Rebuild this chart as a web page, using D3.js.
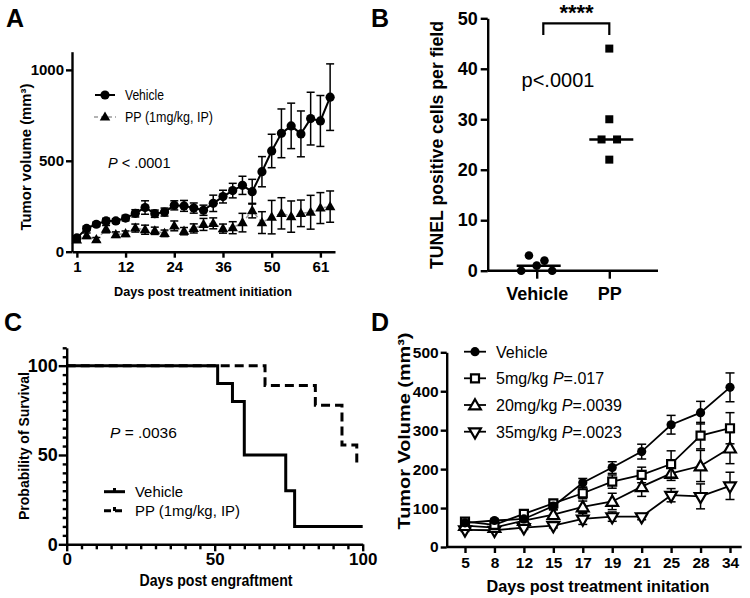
<!DOCTYPE html>
<html><head><meta charset="utf-8">
<script src="https://cdn.jsdelivr.net/npm/d3@7"></script>
<style>body{margin:0;background:#fff}svg{display:block}text{font-family:"Liberation Sans",Arial,sans-serif}</style>
</head><body>
<svg id="c" width="750" height="598"></svg>
<script>
// ---------- DATA ----------
// Panel A (measurement index; labelled ticks)
const aTickIdx = [0, 5, 10, 15, 20, 25];
const aTickLabels = ["1", "12", "24", "36", "50", "61"];
const aVehicle = [76,128,151,169,169,185,211,243,209,218,255,252,240,228,266,303,336,365,330,440,554,651,692,648,732,719,850];
const aVehicleErr = [12,12,12,15,12,15,20,37,20,22,25,30,28,28,45,35,40,50,68,83,92,134,125,126,145,140,183];
const aPP = [64,88,66,124,94,99,130,121,115,101,142,113,128,150,156,127,132,160,226,160,190,211,193,211,217,240,248];
const aPPErr = [10,15,12,20,15,15,22,25,20,18,27,20,25,33,30,25,33,51,40,60,92,86,86,73,93,85,86];
// Panel B
const bGroups = ["Vehicle", "PP"];
const bVehicle = [1, 0, 0, 3, 2];
const bPP = [44, 30, 26, 26, 22];
const bMedian = [1, 26];
// Panel C (Kaplan-Meier)
const cVehTime = [0, 51, 56, 60, 74, 77, 100];
const cVehSurv = [100, 90, 80, 50, 30, 10, 10];
const cPPTime = [0, 67, 84, 93, 98];
const cPPSurv = [100, 88.9, 77.8, 55.6, 44.4];
// Panel D
const dDays = ["5","8","12","15","17","19","21","25","28","34"];
const dVehicle = [62, 68, 72, 105, 165, 204, 245, 314, 345, 410];
const dVehicleErr = [5, 4, 5, 8, 11, 15, 19, 24, 29, 37];
const d5 = [65, 57, 85, 112, 138, 168, 185, 213, 286, 305];
const d5Err = [6, 5, 6, 8, 14, 17, 20, 34, 34, 40];
const d20 = [55, 50, 68, 83, 103, 117, 155, 189, 208, 254];
const d20Err = [5, 4, 6, 12, 15, 21, 25, 18, 40, 40];
const d35 = [44, 43, 50, 55, 72, 78, 78, 133, 130, 157];
const d35Err = [4, 4, 5, 6, 14, 12, 8, 17, 32, 35];

// ---------- DRAW ----------
const svg = d3.select("#c");
const F = '"Liberation Sans",Arial,sans-serif';
function txt(g, x, y, s, size, opts = {}) {
  const t = g.append("text").attr("x", x).attr("y", y).attr("font-size", size)
    .attr("font-weight", opts.bold ? "bold" : "normal")
    .attr("text-anchor", opts.anchor || "start")
    .attr("dominant-baseline", "central").text(s);
  if (opts.rotate) t.attr("transform", `rotate(-90,${x},${y})`);
  if (opts.len) t.attr("textLength", opts.len).attr("lengthAdjust", "spacingAndGlyphs");
  return t;
}
function styleAxis(g, fs) {
  g.selectAll("path,line").attr("stroke", "#000").attr("stroke-width", 2.4);
  g.selectAll("text").attr("font-size", fs).attr("font-weight", "bold").attr("fill", "#000").attr("font-family", F);
}
const tri = d3.symbol().type(d3.symbolTriangle);
function errBars(g, xs, ys, vals, errs, cap, color) {
  vals.forEach((v, i) => {
    const x = xs(i), y1 = ys(v + errs[i]), y0 = ys(v - errs[i]);
    g.append("line").attr("x1", x).attr("x2", x).attr("y1", y0).attr("y2", y1).attr("stroke", color).attr("stroke-width", 1.5);
    [y0, y1].forEach(yy => g.append("line").attr("x1", x - cap).attr("x2", x + cap).attr("y1", yy).attr("y2", yy).attr("stroke", color).attr("stroke-width", 1.5));
  });
}

// Panel letters
[["A", 6, 18], ["B", 371, 18], ["C", 4, 322], ["D", 371, 322]].forEach(([l, x, y]) => txt(svg, x, y, l, 25, {bold: true}));

// ===== Panel A =====
{
  const g = svg.append("g");
  const x = d3.scaleLinear().domain([-0.5, 26.5]).range([72, 335]);
  const y = d3.scaleLinear().domain([0, 1100]).range([251.7, 51.7]);
  const xa = g.append("g").attr("transform", "translate(0,251.7)")
    .call(d3.axisBottom(x).tickValues(aTickIdx).tickFormat((d, i) => aTickLabels[i]).tickSize(6).tickSizeOuter(0).tickPadding(4));
  styleAxis(xa, 15);
  const ya = g.append("g").attr("transform", "translate(72,0)")
    .call(d3.axisLeft(y).tickValues([0, 500, 1000]).tickFormat(d3.format("d")).tickSize(6).tickSizeOuter(0).tickPadding(2));
  styleAxis(ya, 15);
  const ix = i => x(i);
  // PP
  const ppLine = d3.line().x((d, i) => x(i)).y(d => y(d));
  g.append("path").attr("d", ppLine(aPP)).attr("fill", "none").attr("stroke", "#9a9a9a").attr("stroke-width", 1.6).attr("stroke-dasharray", "4,3");
  errBars(g, ix, y, aPP, aPPErr, 4, "#000");
  aPP.forEach((v, i) => g.append("path").attr("d", tri.size(48)()).attr("transform", `translate(${x(i)},${y(v) + 0.5})`).attr("fill", "#000"));
  // Vehicle
  g.append("path").attr("d", ppLine(aVehicle)).attr("fill", "none").attr("stroke", "#000").attr("stroke-width", 2);
  errBars(g, ix, y, aVehicle, aVehicleErr, 4, "#000");
  aVehicle.forEach((v, i) => g.append("circle").attr("cx", x(i)).attr("cy", y(v)).attr("r", 4.6).attr("fill", "#000"));
  // legend
  g.append("line").attr("x1", 95).attr("x2", 115).attr("y1", 95).attr("y2", 95).attr("stroke", "#000").attr("stroke-width", 2);
  g.append("circle").attr("cx", 105).attr("cy", 95).attr("r", 4.6).attr("fill", "#000");
  txt(g, 125, 95, "Vehicle", 14, {len: 39});
  g.append("line").attr("x1", 94).attr("x2", 116).attr("y1", 117).attr("y2", 117).attr("stroke", "#9a9a9a").attr("stroke-width", 1.6).attr("stroke-dasharray", "4,3");
  g.append("path").attr("d", tri.size(48)()).attr("transform", "translate(105,117.5)").attr("fill", "#000");
  txt(g, 125, 117, "PP (1mg/kg, IP)", 14, {len: 88});
  const p = txt(g, 108, 163, "", 14.5);
  p.append("tspan").attr("font-style", "italic").text("P");
  p.append("tspan").text(" < .0001");
  // axis titles
  txt(g, 203, 291, "Days post treatment initiation", 13, {bold: true, anchor: "middle", len: 178});
  txt(g, 26, 157, "Tumor volume (mm³)", 14.5, {bold: true, anchor: "middle", rotate: true, len: 147});
}

// ===== Panel B =====
{
  const g = svg.append("g");
  const y = d3.scaleLinear().domain([0, 50]).range([270.7, 18.3]);
  const x = d3.scalePoint().domain(bGroups).range([536.7, 609.3]);
  const ya = g.append("g").attr("transform", "translate(487.7,0)")
    .call(d3.axisLeft(y).tickValues([0, 10, 20, 30, 40, 50]).tickSize(7).tickSizeOuter(0).tickPadding(3));
  styleAxis(ya, 18);
  const xa = g.append("g").attr("transform", "translate(0,270.7)")
    .call(d3.axisBottom(x).tickSize(8).tickSizeOuter(0).tickPadding(9));
  styleAxis(xa, 18);
  xa.select(".domain").remove();
  g.append("line").attr("x1", 487.7).attr("x2", 658).attr("y1", 270.7).attr("y2", 270.7).attr("stroke", "#000").attr("stroke-width", 2.4);
  // swarm: rows of overlapping points, spread symmetrically
  function swarm(vals, cx, step, tol) {
    const idx = vals.map((v, i) => i).sort((a, b) => vals[a] - vals[b]);
    const rows = [];
    idx.forEach(i => {
      const r = rows[rows.length - 1];
      if (r && Math.abs(y(vals[r[0]]) - y(vals[i])) <= tol) r.push(i); else rows.push([i]);
    });
    const out = [];
    rows.forEach(r => {
      r.sort((a, b) => vals[b] - vals[a]);
      const n = r.length;
      let offs;
      if (n % 2 === 1) { offs = [0]; for (let k = 1; offs.length < n; k++) { offs.push(-k * step); if (offs.length < n) offs.push(k * step); } }
      else { offs = []; for (let k = 0; offs.length < n; k++) { offs.push(-(k + 0.5) * step); offs.push((k + 0.5) * step); } }
      r.forEach((i, j) => out.push({v: vals[i], x: cx + offs[j]}));
    });
    return out;
  }
  swarm(bVehicle, x("Vehicle"), 15.5, 8).forEach(d => g.append("circle").attr("cx", d.x).attr("cy", y(d.v)).attr("r", 4.3).attr("fill", "#000"));
  swarm(bPP, x("PP"), 15.5, 8).forEach(d => g.append("rect").attr("x", d.x - 4).attr("y", y(d.v) - 4).attr("width", 8).attr("height", 8).attr("fill", "#000"));
  bGroups.forEach((gname, i) => g.append("line").attr("x1", x(gname) - 20).attr("x2", x(gname) + 24).attr("y1", y(bMedian[i])).attr("y2", y(bMedian[i])).attr("stroke", "#000").attr("stroke-width", 2.5));
  // significance bracket
  g.append("path").attr("d", `M543.3,35V23.3H609.3V35`).attr("fill", "none").attr("stroke", "#000").attr("stroke-width", 2.2);
  txt(g, 576.5, 12, "****", 22, {bold: true, anchor: "middle"});
  txt(g, 558, 80, "p<.0001", 20, {anchor: "middle"});
  txt(g, 437, 145, "TUNEL positive cells per field", 17.5, {bold: true, anchor: "middle", rotate: true, len: 248});
}

// ===== Panel C =====
{
  const g = svg.append("g");
  const x = d3.scaleLinear().domain([0, 100]).range([66.7, 362.7]);
  const y = d3.scaleLinear().domain([0, 110]).range([544.3, 347.8]);
  const xa = g.append("g").attr("transform", "translate(0,544.3)")
    .call(d3.axisBottom(x).tickValues(d3.range(0, 101, 5)).tickFormat(d => d % 50 === 0 ? d : "").tickSize(5).tickSizeOuter(0).tickPadding(3));
  styleAxis(xa, 17);
  xa.selectAll(".tick line").filter(d => d % 50 === 0).attr("y2", 7);
  xa.selectAll(".tick text").attr("y", 9);
  const ya = g.append("g").attr("transform", "translate(66.7,0)")
    .call(d3.axisLeft(y).tickValues(d3.range(0, 111, 5)).tickFormat(d => d % 50 === 0 ? d : "").tickSize(4).tickSizeOuter(0).tickPadding(3));
  styleAxis(ya, 18);
  ya.selectAll(".tick line").filter(d => d % 50 === 0).attr("x2", -8);
  ya.selectAll(".tick text").attr("x", -9);
  const step = d3.line().x(d => x(d[0])).y(d => y(d[1])).curve(d3.curveStepAfter);
  g.append("path").attr("d", step(cPPTime.map((t, i) => [t, cPPSurv[i]]))).attr("fill", "none").attr("stroke", "#000").attr("stroke-width", 3).attr("stroke-dasharray", "9,5");
  g.append("path").attr("d", step(cVehTime.map((t, i) => [t, cVehSurv[i]]))).attr("fill", "none").attr("stroke", "#000").attr("stroke-width", 3);
  // legend
  g.append("line").attr("x1", 104).attr("x2", 125).attr("y1", 491.7).attr("y2", 491.7).attr("stroke", "#000").attr("stroke-width", 3);
  g.append("rect").attr("x", 113).attr("y", 488).attr("width", 3).attr("height", 4).attr("fill", "#000");
  txt(g, 135, 491.7, "Vehicle", 15.5, {len: 48});
  g.append("line").attr("x1", 104).attr("x2", 125).attr("y1", 510.7).attr("y2", 510.7).attr("stroke", "#000").attr("stroke-width", 3).attr("stroke-dasharray", "7,4");
  g.append("rect").attr("x", 113).attr("y", 507).attr("width", 3).attr("height", 4).attr("fill", "#000");
  txt(g, 135, 510.7, "PP (1mg/kg, IP)", 15.5, {len: 105});
  const p = txt(g, 110, 432, "", 15.5);
  p.append("tspan").attr("font-style", "italic").text("P");
  p.append("tspan").text(" = .0036");
  txt(g, 216, 580, "Days post engraftment", 16, {bold: true, anchor: "middle", len: 153});
  txt(g, 23, 446, "Probability of Survival", 15, {bold: true, anchor: "middle", rotate: true, len: 148});
}

// ===== Panel D =====
{
  const g = svg.append("g");
  const x = d3.scalePoint().domain(dDays).range([465, 730]);
  const y = d3.scaleLinear().domain([0, 500]).range([547, 352.3]);
  const xa = g.append("g").attr("transform", "translate(0,547)")
    .call(d3.axisBottom(x).tickSize(6).tickSizeOuter(0).tickPadding(4));
  styleAxis(xa, 15.5);
  xa.select(".domain").remove();
  g.append("line").attr("x1", 446.7).attr("x2", 741.7).attr("y1", 547).attr("y2", 547).attr("stroke", "#000").attr("stroke-width", 2.4);
  const ya = g.append("g").attr("transform", "translate(446.7,0)")
    .call(d3.axisLeft(y).tickValues(d3.range(0, 501, 100)).tickSize(6).tickSizeOuter(0).tickPadding(2));
  styleAxis(ya, 15.5);
  const ix = i => x(dDays[i]);
  const line = d3.line().x((d, i) => x(dDays[i])).y(d => y(d));
  const sq = d3.symbol().type(d3.symbolSquare).size(64);
  const up = d3.symbol().type(d3.symbolTriangle).size(60);
  const series = [
    {v: d35, e: d35Err, m: (gg, cx, cy) => gg.append("path").attr("d", up()).attr("transform", `translate(${cx},${cy}) rotate(180)`).attr("fill", "#fff").attr("stroke", "#000").attr("stroke-width", 2.2)},
    {v: d20, e: d20Err, m: (gg, cx, cy) => gg.append("path").attr("d", up()).attr("transform", `translate(${cx},${cy + 1})`).attr("fill", "#fff").attr("stroke", "#000").attr("stroke-width", 2.2)},
    {v: d5, e: d5Err, m: (gg, cx, cy) => gg.append("path").attr("d", sq()).attr("transform", `translate(${cx},${cy})`).attr("fill", "#fff").attr("stroke", "#000").attr("stroke-width", 2.2)},
    {v: dVehicle, e: dVehicleErr, m: (gg, cx, cy) => gg.append("circle").attr("cx", cx).attr("cy", cy).attr("r", 4.6).attr("fill", "#000")}
  ];
  series.forEach(s => {
    g.append("path").attr("d", line(s.v)).attr("fill", "none").attr("stroke", "#000").attr("stroke-width", 1.8);
    errBars(g, ix, y, s.v, s.e, 4.5, "#000");
    s.v.forEach((v, i) => s.m(g, x(dDays[i]), y(v)));
  });
  // legend
  const leg = [
    {y: 351.7, t: ["Vehicle"], s: 3},
    {y: 378.3, t: ["5mg/kg ", "P", "=.017"], s: 2},
    {y: 405, t: ["20mg/kg ", "P", "=.0039"], s: 1},
    {y: 431.7, t: ["35mg/kg ", "P", "=.0023"], s: 0}
  ];
  leg.forEach(L => {
    g.append("line").attr("x1", 464).attr("x2", 486).attr("y1", L.y).attr("y2", L.y).attr("stroke", "#000").attr("stroke-width", 1.8);
    series[L.s].m(g, 475, L.y);
    const t = txt(g, 496, L.y, "", 16);
    L.t.forEach((s, k) => { const ts = t.append("tspan").text(s); if (k === 1) ts.attr("font-style", "italic"); });
  });
  txt(g, 598, 586, "Days post treatment initation", 16, {bold: true, anchor: "middle", len: 223});
  txt(g, 404, 431, "Tumor  Volume (mm³)", 17, {bold: true, anchor: "middle", rotate: true, len: 197});
}
</script>
</body></html>
